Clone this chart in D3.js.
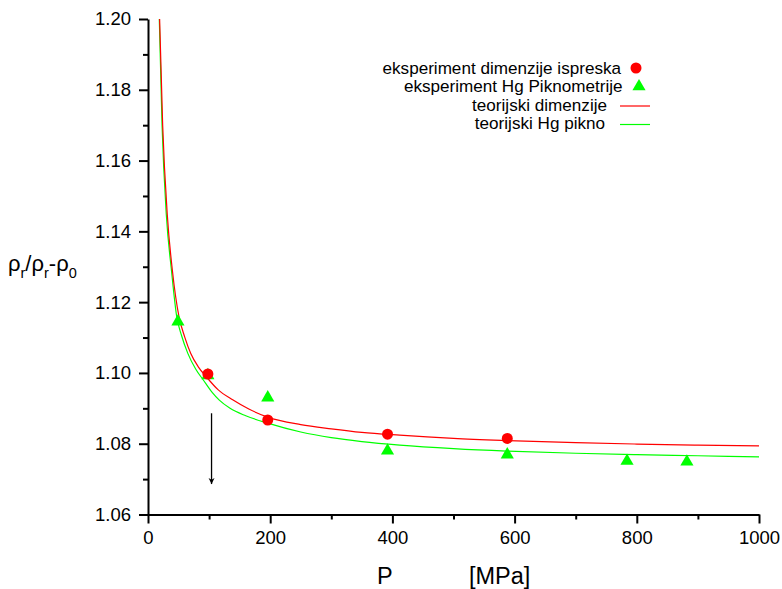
<!DOCTYPE html>
<html>
<head>
<meta charset="utf-8">
<script src="https://cdn.jsdelivr.net/npm/d3@7"></script>
<style>
  html, body { margin: 0; padding: 0; background: #ffffff; }
  svg { display: block; }
  text { font-family: "Liberation Sans", Arial, sans-serif; fill: #000; }
</style>
</head>
<body>
<svg id="chart" width="782" height="589"></svg>
<script>
// ---------- data ----------
const xTickValues = [0, 200, 400, 600, 800, 1000];
const xMinorTicks = [100, 300, 500, 700, 900];
const yTickValues = [1.06, 1.08, 1.10, 1.12, 1.14, 1.16, 1.18, 1.20];
const yMinorTicks = [1.07, 1.09, 1.11, 1.13, 1.15, 1.17, 1.19];

const expDimP = [98, 196, 392, 588];
const expDimV = [1.0997, 1.0867, 1.0827, 1.0815];

const expHgP = [49, 98, 196, 392, 588, 784, 882];
const expHgV = [1.1145, 1.0993, 1.0930, 1.0780, 1.0769, 1.0751, 1.0749];

const teoDimP = [19, 24, 31.6, 40, 50.7, 60, 70, 82, 96, 115, 138.6, 165, 196, 250, 300, 350, 412, 500, 587, 700, 800, 900, 1000];
const teoDimV = [1.2000, 1.1700, 1.1446, 1.1288, 1.1159, 1.1102, 1.1055, 1.1018, 1.0988, 1.0952, 1.0924, 1.0898, 1.0875, 1.0854, 1.0842, 1.0832, 1.0824, 1.0815, 1.0809, 1.0803, 1.0799, 1.0796, 1.0794];

const teoHgP = [18.5, 23, 30, 38.5, 47, 55, 65, 78, 90.5, 105, 116.7, 134.3, 160, 196, 250, 300, 350, 412, 500, 587, 700, 800, 900, 1000];
const teoHgV = [1.2000, 1.1700, 1.1446, 1.1288, 1.1159, 1.1105, 1.1056, 1.1011, 1.0980, 1.0945, 1.0923, 1.0900, 1.0879, 1.0858, 1.0833, 1.0817, 1.0806, 1.0796, 1.0786, 1.0779, 1.0773, 1.0769, 1.0766, 1.0763];

const legendLabels = ["eksperiment dimenzije ispreska", "eksperiment Hg Piknometrije", "teorijski dimenzije", "teorijski Hg pikno"];
const arrowP = [104, 104];
const arrowV = [1.0886, 1.0686];

// ---------- chart ----------
const svg = d3.select("#chart");
const RED = "#ff0000", GREEN = "#00ff00";

const x = d3.scaleLinear().domain([0, 1000]).range([148, 759]);
const y = d3.scaleLinear().domain([1.06, 1.20]).range([514.5, 19]);

svg.append("rect").attr("width", 782).attr("height", 589).attr("fill", "#fff");

// axes
svg.append("g").attr("transform", `translate(${x(0)},0)`)
  .call(d3.axisLeft(y).tickValues(yTickValues).tickSize(9).tickSizeOuter(0).tickPadding(8)
        .tickFormat(d3.format(".2f")));
const yMinor = svg.append("g").attr("transform", `translate(${x(0)},0)`)
  .call(d3.axisLeft(y).tickValues(yMinorTicks).tickSize(5).tickSizeOuter(0).tickFormat(""));
yMinor.select(".domain").remove();

svg.append("g").attr("transform", `translate(0,${y(1.06)})`)
  .call(d3.axisBottom(x).tickValues(xTickValues).tickSize(9).tickSizeOuter(0).tickPadding(7)
        .tickFormat(d3.format("d")));
const xMinor = svg.append("g").attr("transform", `translate(0,${y(1.06)})`)
  .call(d3.axisBottom(x).tickValues(xMinorTicks).tickSize(5).tickSizeOuter(0).tickFormat(""));
xMinor.select(".domain").remove();

svg.selectAll(".domain").attr("stroke", "#000").attr("stroke-width", 2);
svg.selectAll(".tick line").attr("stroke", "#000").attr("stroke-width", 2);
svg.selectAll(".tick text").attr("font-size", 18.5).attr("font-family", "Liberation Sans, Arial, sans-serif").attr("fill", "#000");

// curves
const line = d3.line().x(d => x(d[0])).y(d => y(d[1])).curve(d3.curveMonotoneX);
svg.append("path").datum(teoHgP.map((p, i) => [p, teoHgV[i]]))
  .attr("d", line).attr("fill", "none").attr("stroke", GREEN).attr("stroke-width", 1.2);
svg.append("path").datum(teoDimP.map((p, i) => [p, teoDimV[i]]))
  .attr("d", line).attr("fill", "none").attr("stroke", RED).attr("stroke-width", 1.2);

// markers
const tri = d3.symbol().type(d3.symbolTriangle).size(75);
svg.append("g").selectAll("path").data(expHgP.map((p, i) => [p, expHgV[i]])).join("path")
  .attr("d", tri).attr("transform", d => `translate(${x(d[0])},${y(d[1])})`).attr("fill", GREEN);
svg.append("g").selectAll("circle").data(expDimP.map((p, i) => [p, expDimV[i]])).join("circle")
  .attr("cx", d => x(d[0])).attr("cy", d => y(d[1])).attr("r", 5.5).attr("fill", RED);

// arrow annotation
svg.append("defs").append("marker").attr("id", "ah")
  .attr("viewBox", "0 0 10 10").attr("refX", 10).attr("refY", 5)
  .attr("markerWidth", 6).attr("markerHeight", 10).attr("markerUnits", "userSpaceOnUse")
  .attr("orient", "auto")
  .append("path").attr("d", "M0,0 L10,5 L0,10 L3,5 Z").attr("fill", "#000");
svg.append("line")
  .attr("x1", x(arrowP[0])).attr("y1", y(arrowV[0]))
  .attr("x2", x(arrowP[1])).attr("y2", y(arrowV[1]))
  .attr("stroke", "#000").attr("stroke-width", 1.3).attr("marker-end", "url(#ah)");

// legend
const lg = svg.append("g");
const legY = [73.5, 92, 110.5, 129];
const LF = 17.1;
lg.append("text").attr("x", 621).attr("y", legY[0]).attr("text-anchor", "end").attr("font-size", LF).text(legendLabels[0]);
lg.append("circle").attr("cx", 636).attr("cy", legY[0] - 5.5).attr("r", 5.5).attr("fill", RED);
lg.append("text").attr("x", 622.5).attr("y", legY[1]).attr("text-anchor", "end").attr("font-size", LF).text(legendLabels[1]);
lg.append("path").attr("d", tri).attr("transform", `translate(639,${legY[1] - 5.5})`).attr("fill", GREEN);
lg.append("text").attr("x", 607).attr("y", legY[2]).attr("text-anchor", "end").attr("font-size", LF).text(legendLabels[2]);
lg.append("line").attr("x1", 620).attr("x2", 650).attr("y1", legY[2] - 4.5).attr("y2", legY[2] - 4.5).attr("stroke", RED).attr("stroke-width", 1.2);
lg.append("text").attr("x", 605).attr("y", legY[3]).attr("text-anchor", "end").attr("font-size", LF).text(legendLabels[3]);
lg.append("line").attr("x1", 620).attr("x2", 650).attr("y1", legY[3] - 4.5).attr("y2", legY[3] - 4.5).attr("stroke", GREEN).attr("stroke-width", 1.2);

// axis titles
svg.append("text").attr("x", 377).attr("y", 584).attr("font-size", 23.5).text("P");
svg.append("text").attr("x", 469).attr("y", 584).attr("font-size", 23.5).text("[MPa]");

const yt = svg.append("text").attr("x", 8).attr("y", 271).attr("font-size", 22);
yt.append("tspan").text("ρ");
yt.append("tspan").attr("font-size", 14.5).attr("dy", 7).text("r");
yt.append("tspan").attr("dy", -7).text("/ρ");
yt.append("tspan").attr("font-size", 14.5).attr("dy", 7).text("r");
yt.append("tspan").attr("dy", -7).text("-ρ");
yt.append("tspan").attr("font-size", 14.5).attr("dy", 7).text("0");
</script>
</body>
</html>
